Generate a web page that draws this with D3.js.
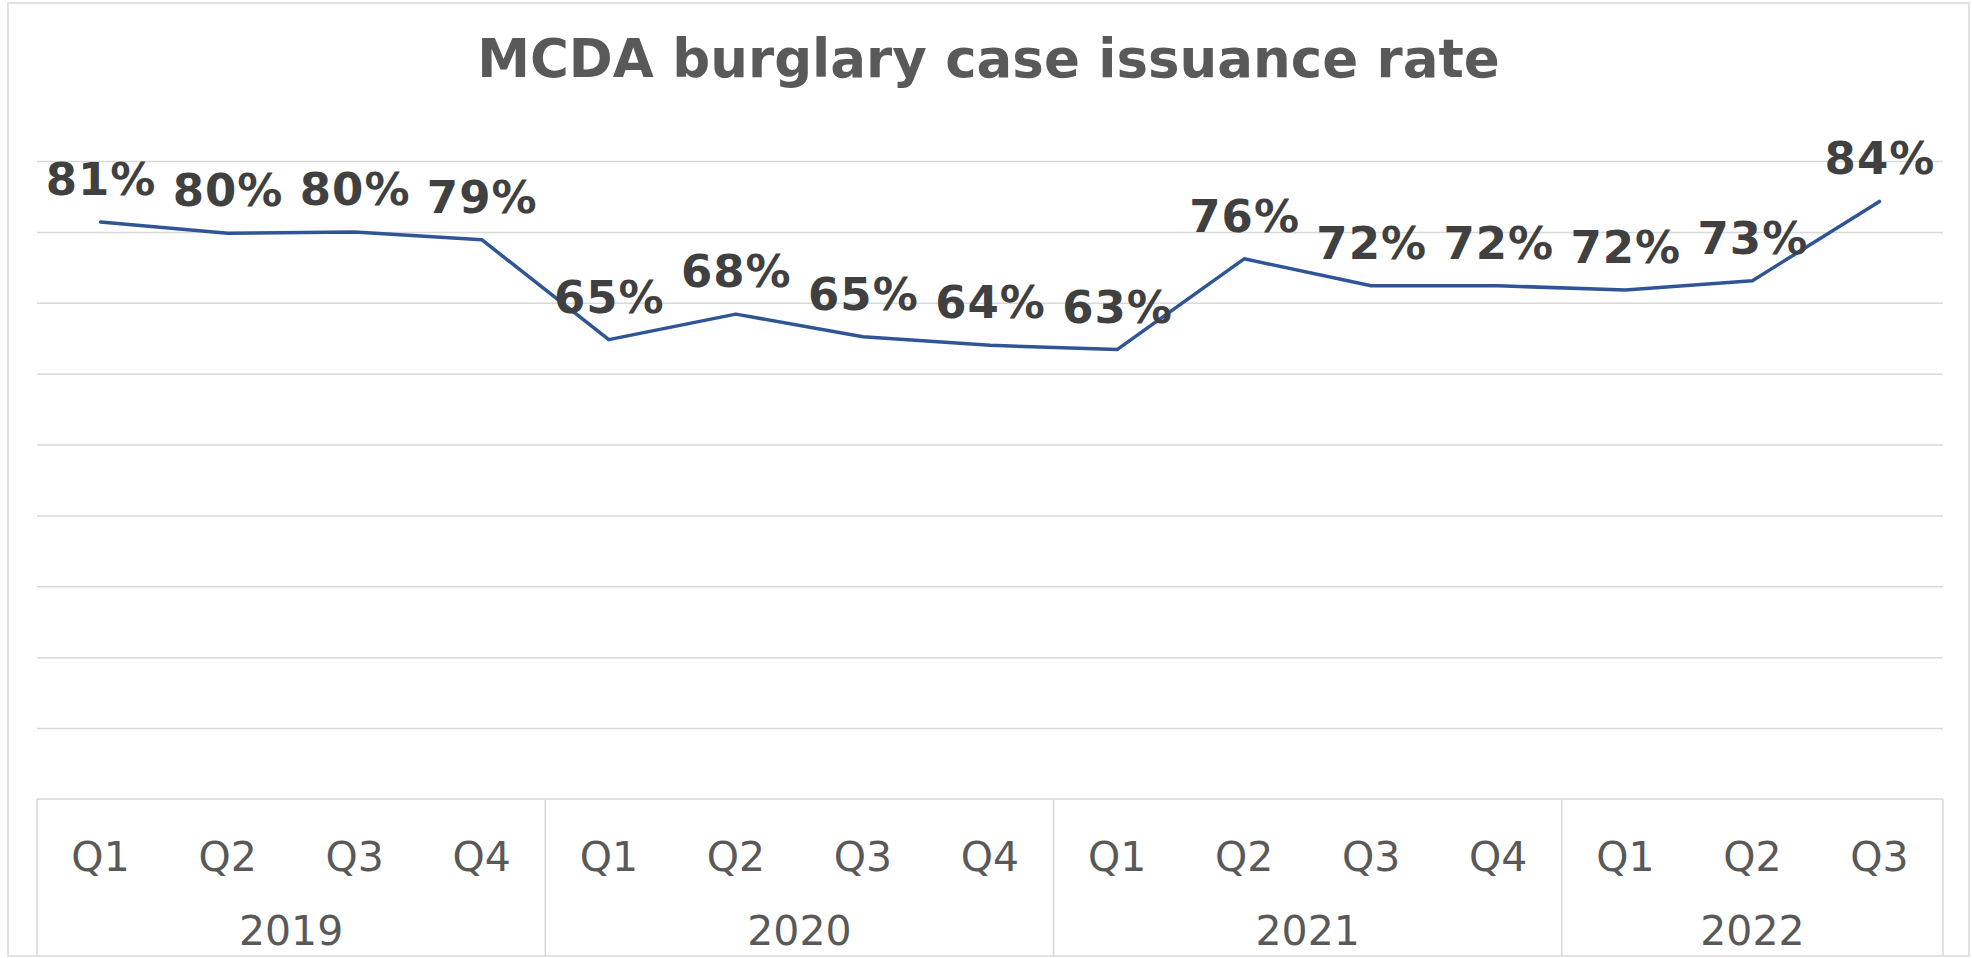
<!DOCTYPE html>
<html>
<head>
<meta charset="utf-8">
<script src="https://cdn.jsdelivr.net/npm/d3@7"></script>
<style>
  body { margin: 0; background: #fff; }
  text { font-family: "DejaVu Sans", Verdana, sans-serif; }
</style>
</head>
<body>
<div id="chart"></div>
<script>
// quarterly issuance rate
const quarters = ["Q1","Q2","Q3","Q4","Q1","Q2","Q3","Q4","Q1","Q2","Q3","Q4","Q1","Q2","Q3"];
const years = ["2019","2020","2021","2022"];
const quartersPerYear = [4, 4, 4, 3];
const rates = [0.814, 0.798, 0.800, 0.789, 0.648, 0.684, 0.652, 0.640, 0.634, 0.762, 0.724, 0.724, 0.718, 0.731, 0.843];
const gridTicks = [0.1, 0.2, 0.3, 0.4, 0.5, 0.6, 0.7, 0.8, 0.9];

const svgWidth = 1972, svgHeight = 958;
const plot = { left: 37, right: 1943, top: 161, bottom: 799 };
const frame = { x: 8, y: 3, w: 1961, h: 953 };

const svg = d3.select("#chart").append("svg")
  .attr("width", svgWidth)
  .attr("height", svgHeight);

svg.append("rect")
  .attr("x", frame.x).attr("y", frame.y)
  .attr("width", frame.w).attr("height", frame.h)
  .attr("fill", "#fff")
  .attr("stroke", "#d9d9d9")
  .attr("stroke-width", 1.5);

svg.append("text")
  .attr("x", (frame.x * 2 + frame.w) / 2)
  .attr("y", 77)
  .attr("text-anchor", "middle")
  .attr("font-size", 53)
  .attr("font-weight", "bold")
  .attr("fill", "#595959")
  .text("MCDA burglary case issuance rate");

const x = d3.scaleBand()
  .domain(d3.range(quarters.length))
  .range([plot.left, plot.right])
  .padding(0);

const y = d3.scaleLinear()
  .domain([0, 0.9])
  .range([plot.bottom, plot.top]);

// gridlines
const grid = svg.append("g")
  .attr("transform", `translate(${plot.left},0)`)
  .call(d3.axisLeft(y).tickValues(gridTicks).tickSize(-(plot.right - plot.left)).tickFormat(""));
grid.select(".domain").remove();
grid.selectAll(".tick line").attr("stroke", "#d9d9d9").attr("stroke-width", 1.5);

// category axis: quarters row
const qAxis = svg.append("g")
  .attr("transform", `translate(0,${plot.bottom})`)
  .call(d3.axisBottom(x).tickSize(0).tickPadding(0).tickFormat(i => quarters[i]));
qAxis.select(".domain").remove();
qAxis.selectAll(".tick text")
  .attr("y", 72)
  .attr("dy", null)
  .attr("font-size", 41)
  .attr("fill", "#595959")
  .attr("font-family", "DejaVu Sans, sans-serif");

// axis box top line
svg.append("line")
  .attr("x1", plot.left).attr("x2", plot.right)
  .attr("y1", plot.bottom).attr("y2", plot.bottom)
  .attr("stroke", "#d9d9d9").attr("stroke-width", 1.5);

// year groups
let start = 0;
const groups = years.map((yr, k) => {
  const grp = { year: yr, first: start, last: start + quartersPerYear[k] - 1 };
  start += quartersPerYear[k];
  return grp;
});

const bounds = [plot.left].concat(groups.map(d => x(d.last) + x.bandwidth()));
svg.selectAll("line.divider")
  .data(bounds)
  .enter().append("line")
  .attr("class", "divider")
  .attr("x1", d => d).attr("x2", d => d)
  .attr("y1", plot.bottom).attr("y2", frame.y + frame.h)
  .attr("stroke", "#d9d9d9").attr("stroke-width", 1.5);

svg.selectAll("text.year")
  .data(groups)
  .enter().append("text")
  .attr("class", "year")
  .attr("x", d => (x(d.first) + x(d.last) + x.bandwidth()) / 2)
  .attr("y", 945)
  .attr("text-anchor", "middle")
  .attr("font-size", 41)
  .attr("fill", "#595959")
  .text(d => d.year);

// line
const line = d3.line()
  .x((d, i) => x(i) + x.bandwidth() / 2)
  .y(d => y(d));

svg.append("path")
  .datum(rates)
  .attr("d", line)
  .attr("fill", "none")
  .attr("stroke", "#2f5597")
  .attr("stroke-width", 3.5)
  .attr("stroke-linejoin", "round")
  .attr("stroke-linecap", "round");

// data labels
const fmt = d3.format(".0%");
svg.selectAll("text.lbl")
  .data(rates)
  .enter().append("text")
  .attr("class", "lbl")
  .attr("x", (d, i) => x(i) + x.bandwidth() / 2 + 0.5)
  .attr("y", d => y(d) - 27)
  .attr("text-anchor", "middle")
  .attr("font-size", 45)
  .attr("letter-spacing", 1)
  .attr("font-weight", "bold")
  .attr("fill", "#404040")
  .text(d => fmt(d));
</script>
</body>
</html>
